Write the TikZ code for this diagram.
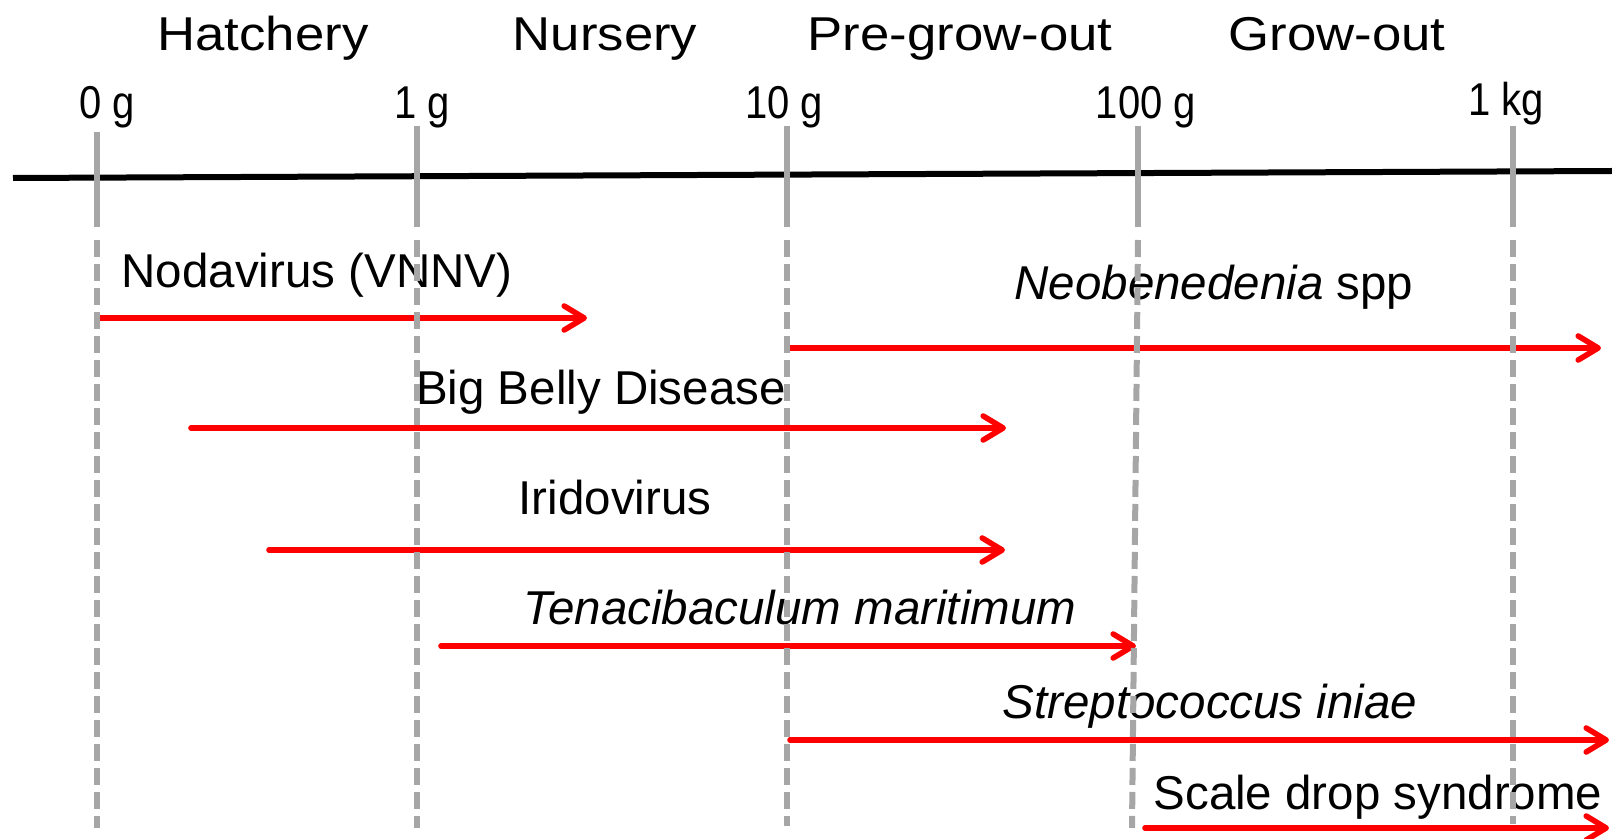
\documentclass[tikz,border=0pt]{standalone}
\usepackage{fontspec}
\usepackage{graphicx}
\setmainfont{Liberation Sans}
\usetikzlibrary{arrows.meta}

\definecolor{guidegray}{RGB}{166,166,166}

\tikzset{
    stage/.style={anchor=base, inner sep=0pt, font=\fontsize{23.75}{28}\selectfont},
    weight/.style={anchor=base, inner sep=0pt, font=\fontsize{23}{28}\selectfont},
    disease/.style={anchor=base, inner sep=0pt, font=\fontsize{23.75}{28}\selectfont},
    span/.style={red, line width=2.8pt, line cap=round,
        -{Straight Barb[length=10pt, width=12pt, line cap=round, line join=round]}},
    guide/.style={guidegray, line width=3pt},
}

\begin{document}
\begin{tikzpicture}[x=0.5pt, y=-0.5pt]
    \useasboundingbox (0,0) rectangle (1612,839);

    % Stages
    \node[stage] (hatchery) at (263,51) {\scalebox{1.11}[1]{Hatchery}};
    \node[stage] (nursery) at (605,51) {\scalebox{1.11}[1]{Nursery}};
    \node[stage] (pregrow) at (960,51) {\scalebox{1.11}[1]{Pre-grow-out}};
    \node[stage] (growout) at (1337,51) {\scalebox{1.11}[1]{Grow-out}};

    % Weights
    \node[weight] (w0) at (107,119) {\scalebox{0.87}[1]{0 g}};
    \node[weight] (w1) at (422,119) {\scalebox{0.87}[1]{1 g}};
    \node[weight] (w10) at (784,119) {\scalebox{0.87}[1]{10 g}};
    \node[weight] (w100) at (1146,119) {\scalebox{0.87}[1]{100 g}};
    \node[weight] (w1000) at (1506,116) {\scalebox{0.87}[1]{1 kg}};

    % Axis
    \draw[black, line width=3pt] (13,178) -- (1612,171);

    % Diseases
    \node[disease] (noda) at (317,288) {Nodavirus (VNNV)};
    \draw[span] (100,318) -- (587,318);

    \node[disease] (neob) at (1214,300) {\textit{Neobenedenia} spp};
    \draw[span] (787,348) -- (1601,348);

    \node[disease] (belly) at (601,405) {Big Belly Disease};
    \draw[span] (191,428) -- (1006,428);

    \node[disease] (irido) at (615,515) {Iridovirus};
    \draw[span] (269,550) -- (1005,550);

    \node[disease] (tena) at (800,624) {\textit{Tenacibaculum maritimum}};
    \draw[span] (441,646) -- (1136,646);

    \node[disease] (strep) at (1210,718) {\textit{Streptococcus iniae}};
    \draw[span] (790,740) -- (1609,740);

    \node[disease] (scale) at (1378,809) {Scale drop syndrome};
    \draw[span] (1145,828) -- (1609,828);

    % Guide lines
    \foreach \xa/\xb/\top/\bot in {97/97/132/828, 417/417/126/828, 787/787/126/826, 1138/1132/126/828, 1513/1513/126/824} {
        \draw[guide] (\xa,\top) -- (\xa,227);
        \draw[guide, dash pattern=on 8.5pt off 3.5pt] (\xa,240) -- (\xb,\bot);
    }
\end{tikzpicture}
\end{document}
